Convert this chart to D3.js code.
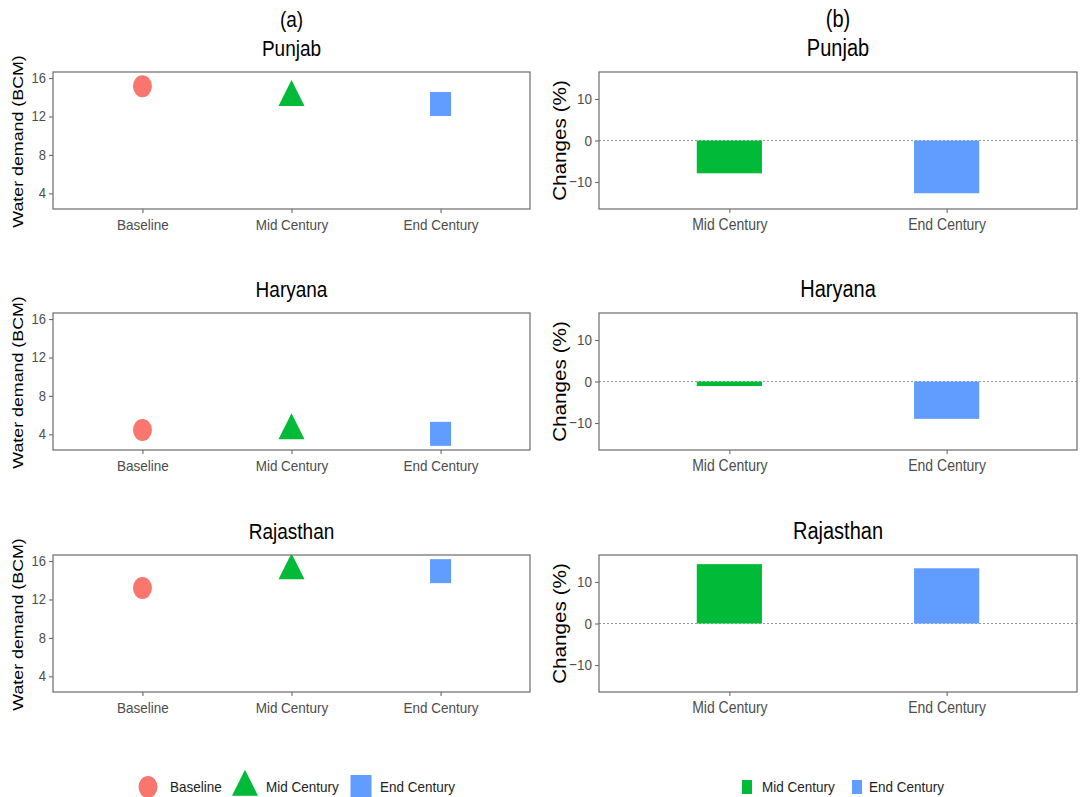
<!DOCTYPE html>
<html>
<head>
<meta charset="utf-8">
<script src="https://cdn.jsdelivr.net/npm/d3@7"></script>
<style>
  html, body { margin: 0; padding: 0; background: #fff; }
  svg { display: block; font-family: "Liberation Sans", Arial, sans-serif; }
</style>
</head>
<body>
<svg id="chart" width="1080" height="797"></svg>
<script>
// Regions and periods
const regions = ["Punjab", "Haryana", "Rajasthan"];
const periods = ["Baseline", "Mid Century", "End Century"];
const futurePeriods = ["Mid Century", "End Century"];

// Water demand (BCM) per period
const punjabDemand = [15.15, 14.0, 13.3];
const haryanaDemand = [4.45, 4.4, 4.05];
const rajasthanDemand = [13.2, 15.0, 14.95];

// Change relative to baseline (%)
const punjabChange = [-7.9, -12.7];
const haryanaChange = [-1.1, -9.0];
const rajasthanChange = [14.3, 13.3];

// Axis ticks
const demandTicks = [4, 8, 12, 16];
const changeTicks = [-10, 0, 10];

const demandByRegion = [punjabDemand, haryanaDemand, rajasthanDemand];
const changeByRegion = [punjabChange, haryanaChange, rajasthanChange];

const colors = d3.scaleOrdinal().domain(periods).range(["#F8766D", "#00BA38", "#619CFF"]);

const svg = d3.select("#chart");

const panelH = 137;
const rowTops = [72, 313, 555];
const left = { x0: 53, x1: 530 };
const right = { x0: 599, x1: 1077 };

const borderColor = "#6b6b6b";
const tickText = "#4d4d4d";
const stretch = 1.15; // glyphs are drawn slightly taller than wide

// Discrete x scale with ggplot-like 0.6 expansion
function discreteX(domain, x0, x1) {
  const n = domain.length;
  const lin = d3.scaleLinear().domain([0.4, n + 0.6]).range([x0, x1]);
  const s = d => lin(domain.indexOf(d) + 1);
  s.unit = (x1 - x0) / (n + 0.2);
  return s;
}

// Horizontal text with a vertical stretch about its baseline
function label(g, x, y, txt, size, anchor, fill) {
  return g.append("text")
    .attr("transform", `translate(${x},${y}) scale(1,${stretch})`)
    .attr("text-anchor", anchor || "middle")
    .style("font-size", size + "px")
    .attr("fill", fill || "#000")
    .text(txt);
}

// Vertical axis title, lengthened along its reading direction
function vlabel(g, x, y, txt, size) {
  return g.append("text")
    .attr("transform", `translate(${x},${y}) rotate(-90) scale(${stretch},1)`)
    .attr("text-anchor", "middle")
    .attr("dy", "0.35em")
    .style("font-size", size + "px")
    .attr("fill", "#000")
    .text(txt);
}

// Marker shapes
function drawMarker(g, period, cx, cy) {
  const c = colors(period);
  if (period === "Baseline") {
    g.append("ellipse").attr("cx", cx).attr("cy", cy).attr("rx", 9.5).attr("ry", 11).attr("fill", c);
  } else if (period === "Mid Century") {
    const h = 26, w = 26;
    g.append("path")
      .attr("d", `M${cx},${cy - h * 2 / 3}L${cx + w / 2},${cy + h / 3}L${cx - w / 2},${cy + h / 3}Z`)
      .attr("fill", c);
  } else {
    g.append("rect").attr("x", cx - 10.5).attr("y", cy - 12).attr("width", 21).attr("height", 24).attr("fill", c);
  }
}

function panelFrame(g, x0, x1, y0, y1) {
  g.append("rect").attr("x", x0).attr("y", y0).attr("width", x1 - x0).attr("height", y1 - y0)
    .attr("fill", "none").attr("stroke", borderColor).attr("stroke-width", 1.2);
}

function styleAxis(ax, size) {
  ax.select(".domain").remove();
  ax.selectAll(".tick line").attr("stroke", borderColor).attr("stroke-width", 1.1);
  ax.selectAll(".tick text").attr("fill", tickText)
    .style("font-family", "Liberation Sans, Arial, sans-serif")
    .style("font-size", size + "px");
}

function stretchBottomTicks(ax, offset) {
  ax.selectAll(".tick text").attr("y", 0).attr("dy", null)
    .attr("transform", `translate(0,${offset}) scale(1,${stretch})`);
}

function stretchLeftTicks(ax, offset) {
  ax.selectAll(".tick text").attr("x", 0).attr("dy", null)
    .attr("transform", `translate(${-offset},4.5) scale(1,${stretch})`);
}

regions.forEach((region, i) => {
  const y0 = rowTops[i], y1 = y0 + panelH;

  // ---- Left: water demand ----
  const xL = discreteX(periods, left.x0, left.x1);
  const yL = d3.scaleLinear().domain([2.37, 16.63]).range([y1, y0]);
  const gL = svg.append("g");

  const clipId = "clipL" + i;
  svg.append("clipPath").attr("id", clipId).append("rect")
    .attr("x", left.x0).attr("y", y0).attr("width", left.x1 - left.x0).attr("height", panelH);

  const marks = gL.append("g").attr("clip-path", `url(#${clipId})`);
  periods.forEach((p, j) => drawMarker(marks, p, xL(p), yL(demandByRegion[i][j])));
  panelFrame(gL, left.x0, left.x1, y0, y1);

  const axL = gL.append("g").attr("transform", `translate(${left.x0},0)`)
    .call(d3.axisLeft(yL).tickValues(demandTicks).tickSize(4).tickPadding(3));
  styleAxis(axL, 13);
  stretchLeftTicks(axL, 7);

  const axB = gL.append("g").attr("transform", `translate(0,${y1})`)
    .call(d3.axisBottom(d3.scalePoint().domain(periods).range([xL("Baseline"), xL("End Century")]))
      .tickSize(4).tickPadding(5));
  styleAxis(axB, 13.5);
  stretchBottomTicks(axB, 21);

  vlabel(gL, 18, (y0 + y1) / 2 + 1, "Water demand (BCM)", 15.5);
  label(gL, (left.x0 + left.x1) / 2, y0 - 16, region, 19);

  // ---- Right: change (%) ----
  const xR = discreteX(futurePeriods, right.x0, right.x1);
  const yR = d3.scaleLinear().domain([-16.5, 16.5]).range([y1, y0]);
  const gR = svg.append("g");

  gR.append("line").attr("x1", right.x0).attr("x2", right.x1)
    .attr("y1", yR(0)).attr("y2", yR(0))
    .attr("stroke", "#9a9a9a").attr("stroke-width", 1).attr("stroke-dasharray", "2,2");

  const barW = 0.3 * xR.unit;
  futurePeriods.forEach((p, j) => {
    const v = changeByRegion[i][j];
    gR.append("rect")
      .attr("x", xR(p) - barW / 2)
      .attr("y", yR(Math.max(0, v)))
      .attr("width", barW)
      .attr("height", Math.abs(yR(v) - yR(0)))
      .attr("fill", colors(p));
  });
  panelFrame(gR, right.x0, right.x1, y0, y1);

  const axR = gR.append("g").attr("transform", `translate(${right.x0},0)`)
    .call(d3.axisLeft(yR).tickValues(changeTicks).tickSize(4).tickPadding(3));
  styleAxis(axR, 13.5);
  stretchLeftTicks(axR, 7);

  const axRB = gR.append("g").attr("transform", `translate(0,${y1})`)
    .call(d3.axisBottom(d3.scalePoint().domain(futurePeriods).range([xR("Mid Century"), xR("End Century")]))
      .tickSize(4).tickPadding(5));
  styleAxis(axRB, 14);
  stretchBottomTicks(axRB, 21);

  vlabel(gR, 560, (y0 + y1) / 2, "Changes (%)", 18);
  label(gR, (right.x0 + right.x1) / 2, y0 - 16, region, 20);
});

// Column labels
label(svg, (left.x0 + left.x1) / 2, 27, "(a)", 19);
label(svg, (right.x0 + right.x1) / 2, 27, "(b)", 20);

// Legend for shapes
const legY = 787;
const legL = svg.append("g");
const legLItems = [
  { p: "Baseline", mx: 148, tx: 170 },
  { p: "Mid Century", mx: 245, tx: 266 },
  { p: "End Century", mx: 361, tx: 380 }
];
legLItems.forEach(d => {
  drawMarker(legL, d.p, d.mx, legY);
  label(legL, d.tx, legY + 5, d.p, 13.5, "start", "#222");
});

// Legend for bars
const legR = svg.append("g");
const legRItems = [
  { p: "Mid Century", mx: 747, tx: 762 },
  { p: "End Century", mx: 857, tx: 869 }
];
legRItems.forEach(d => {
  legR.append("rect").attr("x", d.mx - 5).attr("y", legY - 7).attr("width", 10).attr("height", 14)
    .attr("fill", colors(d.p));
  label(legR, d.tx, legY + 5, d.p, 13.5, "start", "#222");
});
</script>
</body>
</html>
